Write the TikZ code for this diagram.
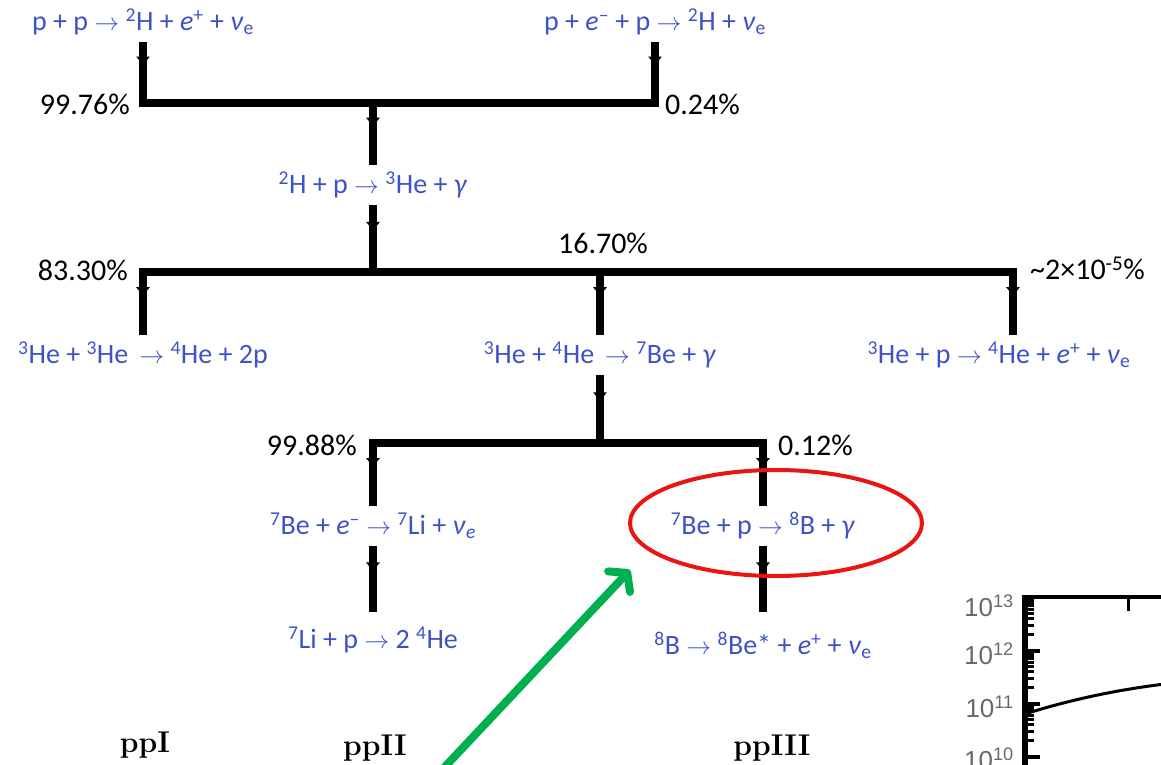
\documentclass[tikz,border=0pt]{standalone}
\usepackage{fontspec}
\newfontfamily\rxnfont{Carlito}
\newfontfamily\axfont{Liberation Sans}
\usetikzlibrary{arrows.meta, decorations.markings}
\definecolor{rxnblue}{RGB}{62, 82, 200}
\definecolor{ringred}{RGB}{235, 20, 20}
\definecolor{pointgreen}{RGB}{0, 176, 80}
\definecolor{axgray}{RGB}{105, 105, 105}
\newcommand{\iso}[2]{\textsuperscript{#1}#2}
\newcommand{\nue}{\textit{ν}\textsubscript{e}}

\begin{document}
\begin{tikzpicture}[
  x=1pt, y=-1pt,
  every node/.style={inner sep=0pt},
  rxn/.style={font=\rxnfont\fontsize{28}{30}\selectfont, text=rxnblue,
    minimum height=40pt},
  pct/.style={font=\rxnfont\fontsize{30}{32}\selectfont},
  tag/.style={font=\fontsize{30}{32}\selectfont\bfseries},
  axlab/.style={font=\axfont\fontsize{26}{28}\selectfont, text=axgray},
  bar/.style={line width=7.5pt, line cap=rect},
  flow/.style={line width=7.5pt, postaction={decorate},
    decoration={markings,
      mark=at position 0.4 with {\arrow{Latex[length=10pt, width=15pt]}}}}
]
  \useasboundingbox (0,0) rectangle (1161,765);
  \clip (0,0) rectangle (1161,765);

  % reazioni
  \node[rxn] (pp) at (143,22) {p + p $\rightarrow$ \iso{2}H + \textit{e}\textsuperscript{+} + \nue};
  \node[rxn] (pep) at (655,22) {p + \textit{e}\textsuperscript{–} + p $\rightarrow$ \iso{2}H + \nue};
  \node[rxn] (dp) at (373,185) {\iso{2}H + p $\rightarrow$ \iso{3}He + \textit{γ}};
  \node[rxn] (hehe) at (143,355) {\iso{3}He + \iso{3}He\, $\rightarrow$ \iso{4}He + 2p};
  \node[rxn] (hefour) at (600,355) {\iso{3}He + \iso{4}He\, $\rightarrow$ \iso{7}Be + \textit{γ}};
  \node[rxn] (hep) at (999,355) {\iso{3}He + p $\rightarrow$ \iso{4}He + \textit{e}\textsuperscript{+} + \nue};
  \node[rxn] (bee) at (373,526) {\iso{7}Be + \textit{e}\textsuperscript{–} $\rightarrow$ \iso{7}Li + \textit{ν}\textsubscript{\textit{e}}};
  \node[rxn] (bep) at (763,526) {\iso{7}Be + p $\rightarrow$ \iso{8}B + \textit{γ}};
  \node[rxn, minimum height=56pt] (lip) at (373,640) {\iso{7}Li + p $\rightarrow$ 2 \iso{4}He};
  \node[rxn, minimum height=66pt] (bdec) at (763,645) {\iso{8}B $\rightarrow$ \iso{8}Be* + \textit{e}\textsuperscript{+} + \nue};

  % rapporti di ramificazione
  \node[pct, anchor=east] (brA) at (130,104) {99.76\%};
  \node[pct, anchor=west] (brB) at (665,104) {0.24\%};
  \node[pct, anchor=east] (brC) at (128,270) {83.30\%};
  \node[pct] (brD) at (603,243) {16.70\%};
  \node[pct, anchor=west] (brE) at (1030,268) {\textasciitilde2×10\textsuperscript{-5}\%};
  \node[pct, anchor=east] (brF) at (357,445) {99.88\%};
  \node[pct, anchor=west] (brG) at (778,445) {0.12\%};

  % catene
  \node[tag] (ppI) at (145,745) {ppI};
  \node[tag] (ppII) at (375,748) {ppII};
  \node[tag] (ppIII) at (772,748) {ppIII};

  % giunzioni
  \coordinate (ja) at (143,103);
  \coordinate (jb) at (655,103);
  \coordinate (jc) at (373,103);
  \coordinate (ka) at (143,272);
  \coordinate (kb) at (1013,272);
  \coordinate (kc) at (373,272);
  \coordinate (kd) at (600,272);
  \coordinate (la) at (373,443);
  \coordinate (lb) at (763,443);
  \coordinate (lc) at (600,443);

  \draw[flow] (pp.south) -- (ja);
  \draw[flow] (pep.south) -- (jb);
  \draw[bar] (ja) -- (jb);
  \draw[flow] (jc) -- (dp.north);
  \draw[flow] (dp.south) -- (kc);
  \draw[bar] (ka) -- (kb);
  \draw[flow] (ka) -- (hehe.north);
  \draw[flow] (kd) -- (hefour.north);
  \draw[flow] (kb) -- (kb |- hep.north);
  \draw[flow] (hefour.south) -- (lc);
  \draw[bar] (la) -- (lb);
  \draw[flow] (la) -- (bee.north);
  \draw[flow] (lb) -- (bep.north);
  \draw[flow] (bee.south) -- (lip.north);
  \draw[flow] (bep.south) -- (bdec.north);

  % evidenziazione
  \draw[ringred, line width=4pt] (776,523) ellipse [x radius=146pt, y radius=53pt];
  \coordinate (gTail) at (440,772);
  \coordinate (gTip) at (630,570);
  \draw[pointgreen, line width=8pt, -{Straight Barb[length=12pt, width=30pt, round]}] (gTail) -- (gTip);

  % grafico (ritaglio)
  \draw[line width=6pt] (1025,597) -- (1025,780);
  \draw[line width=4pt] (1022,597) -- (1170,597);
  \draw[line width=3pt] (1128,597) -- (1128,611);
  \foreach \y in {597,651,704,757}
    \draw[line width=3.5pt] (1025,\y) -- (1040,\y);
  \foreach \y in {651,704,757}
    \foreach \k in {2,...,9}
      \draw[line width=3pt] (1025,{\y-53.3*log10(\k)}) -- (1034,{\y-53.3*log10(\k)});
  \draw[line width=3pt] (1028,713) .. controls (1070,700) and (1115,690) .. (1165,684);
  \node[axlab, anchor=east] (tA) at (1014,606) {10\textsuperscript{13}};
  \node[axlab, anchor=east] (tB) at (1014,654) {10\textsuperscript{12}};
  \node[axlab, anchor=east] (tC) at (1014,707) {10\textsuperscript{11}};
  \node[axlab, anchor=east] (tD) at (1014,759) {10\textsuperscript{10}};
\end{tikzpicture}
\end{document}
